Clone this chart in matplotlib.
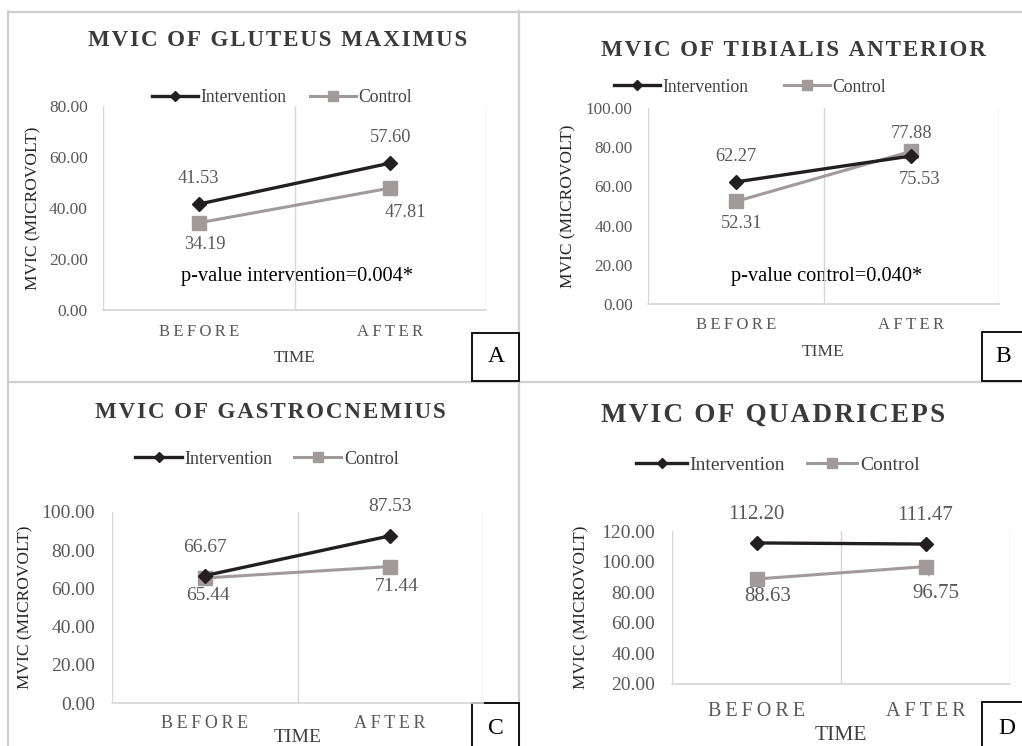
import matplotlib
matplotlib.use("Agg")
import matplotlib.pyplot as plt
import matplotlib.transforms as mtransforms
from matplotlib.lines import Line2D
from matplotlib.patches import Rectangle

plt.rcParams["font.family"] = ["Liberation Serif", "DejaVu Serif", "DejaVu Sans"]

W, H = 1022, 746

# data
times = ["BEFORE", "AFTER"]
titles = ["MVIC OF GLUTEUS MAXIMUS", "MVIC OF TIBIALIS ANTERIOR",
          "MVIC OF GASTROCNEMIUS", "MVIC OF QUADRICEPS"]
gluteus_int = [41.53, 57.60]
gluteus_ctl = [34.19, 47.81]
tibialis_int = [62.27, 75.53]
tibialis_ctl = [52.31, 77.88]
gastro_int = [66.67, 87.53]
gastro_ctl = [65.44, 71.44]
quad_int = [112.20, 111.47]
quad_ctl = [88.63, 96.75]
pvalues = ["p-value intervention=0.004*", "p-value control=0.040*", None, None]
letters = ["A", "B", "C", "D"]

INT_C = "#231f20"
CTL_C = "#a29a9a"
TXT_GREY = "#595959"
FRAME_C = "#cfcfcf"

fig = plt.figure(figsize=(W / 100, H / 100), dpi=100)

# background axes in pixel coordinates for frames and free text
bg = fig.add_axes([0, 0, 1, 1], zorder=-1)
bg.set_xlim(0, W)
bg.set_ylim(H, 0)
bg.axis("off")

for seg in [((8, W), (11.5, 11.5)), ((8, W), (381.5, 381.5)),
            ((8, 8), (11, H)), ((519, 519), (11, H))]:
    bg.add_line(Line2D(seg[0], seg[1], color=FRAME_C, lw=1.6))


def spaced(s, sep):
    return sep.join(s)


# pixel layout per panel
panels = [
    dict(plot=(103, 106, 486, 310), ylim=(0, 80), title=(278, 40, 16.6), legend=(282, 98, 12.7, 1.3),
         ytick_fs=12.5, ypad=11, ylabel_x=33, xt_y=332, xt_fs=12, time_y=358, time_fs=12.3,
         lab_fs=13.2, pval=(297, 277, 14.7), box=(472, 333, 519, 381), letter=(496, 357),
         offs=[[(0, 26), (0, 26)], [(6, -22), (15, -24)]], leader=[False, True]),
    dict(plot=(648, 108, 999, 304), ylim=(0, 100), title=(793, 50, 16.6), legend=(750, 87, 12.7, 2.0),
         ytick_fs=12.3, ypad=11, ylabel_x=568, xt_y=325, xt_fs=12, time_y=352, time_fs=12.5,
         lab_fs=13.2, pval=(827, 277, 14.7), box=(982, 332, 1030, 381), letter=(1003, 357),
         offs=[[(0, 25), (8, -24)], [(6, -22), (0, 18)]], leader=[False, False]),
    dict(plot=(112, 512, 483, 703), ylim=(0, 100), title=(270, 413, 16.6), legend=(267, 459, 13, 1.2),
         ytick_fs=14, ypad=12, ylabel_x=25, xt_y=724, xt_fs=13, time_y=738, time_fs=14,
         lab_fs=14, pval=None, box=(472, 703, 519, 760), letter=(496, 728),
         offs=[[(0, 28), (0, 29)], [(3, -17), (6, -20)]], leader=[False, False]),
    dict(plot=(672, 531, 1010, 684), ylim=(20, 120), title=(773, 415, 19.5), legend=(778, 465, 14, 1.1),
         ytick_fs=14, ypad=12, ylabel_x=581, xt_y=712, xt_fs=14.5, time_y=736, time_fs=15.5,
         lab_fs=15, pval=None, box=(982, 702, 1030, 760), letter=(1007, 728),
         offs=[[(0, 28), (0, 29)], [(11, -18), (10, -27)]], leader=[False, True]),
]

series = [(gluteus_int, gluteus_ctl), (tibialis_int, tibialis_ctl),
          (gastro_int, gastro_ctl), (quad_int, quad_ctl)]

for k, p in enumerate(panels):
    x0, y0, x1, y1 = p["plot"]
    ax = fig.add_axes([x0 / W, 1 - y1 / H, (x1 - x0) / W, (y1 - y0) / H])
    ax.set_facecolor("none")
    ax.set_xlim(-0.5, 1.5)
    ax.set_ylim(*p["ylim"])
    ax.set_yticks(range(p["ylim"][0], p["ylim"][1] + 1, 20))
    ax.yaxis.set_major_formatter(matplotlib.ticker.FormatStrFormatter("%.2f"))
    ax.tick_params(axis="y", length=0, pad=p["ypad"], labelsize=p["ytick_fs"], labelcolor=TXT_GREY)
    ax.set_xticks([])
    for s in ["top", "right", "left"]:
        ax.spines[s].set_visible(False)
    ax.spines["bottom"].set_color("#d6d6d6")
    ax.spines["bottom"].set_linewidth(1.2)
    for gx in (-0.5, 0.5, 1.5):
        ax.axvline(gx, color="#d6d6d6", lw=1.0, zorder=0)

    xs = range(len(times))
    vi, vc = series[k]
    ax.plot(xs, vi, color=INT_C, lw=2.4, marker="D", ms=7.5, label="Intervention", zorder=4)
    ax.plot(xs, vc, color=CTL_C, lw=2.2, marker="s", ms=10, label="Control", zorder=3)

    for j, vals in enumerate((vi, vc)):
        for i, v in enumerate(vals):
            dx, dy = p["offs"][j][i]
            arrow = None
            if j == 1 and p["leader"][i]:
                arrow = dict(arrowstyle="-", color="#8c8c8c", lw=0.8, shrinkA=4, shrinkB=0)
            ax.annotate(f"{v:.2f}", (i, v), xytext=(dx * 0.72, dy * 0.72),
                        textcoords="offset points", ha="center", va="center",
                        fontsize=p["lab_fs"], color=TXT_GREY, arrowprops=arrow, zorder=1)

    # legend
    lx, ly, lfs, lcs = p["legend"]
    ax.legend(loc="center", bbox_to_anchor=(lx / W, 1 - ly / H), bbox_transform=fig.transFigure,
              ncol=2, frameon=False, fontsize=lfs, handlelength=2.6, handletextpad=0.15,
              columnspacing=lcs, markerscale=0.65, labelcolor="#404040", borderpad=0)

    # category labels
    blend = mtransforms.blended_transform_factory(ax.transData, bg.transData)
    for i, t in enumerate(times):
        ax.text(i, p["xt_y"], spaced(t, "\u2009"), transform=blend, ha="center", va="center",
                fontsize=p["xt_fs"], color=TXT_GREY, clip_on=False)

    # title, axis labels
    tx, ty, tfs = p["title"]
    bg.text(tx, ty, spaced(titles[k], "\u200a"), ha="center", va="center",
            fontsize=tfs, fontweight="bold", color="#3a3a3a")
    bg.text((x0 + x1) / 2, p["time_y"], "TIME", ha="center", va="center",
            fontsize=p["time_fs"], color="#404040")
    bg.text(p["ylabel_x"], (y0 + y1) / 2, "MVIC (MICROVOLT)", ha="center", va="center",
            rotation=90, fontsize=12.5, color="#262626")
    if p["pval"]:
        px, py, pfs = p["pval"]
        bg.text(px, py, pvalues[k], ha="center", va="center", fontsize=pfs, color="black")

    # panel letter box
    bx0, by0, bx1, by1 = p["box"]
    bg.add_patch(Rectangle((bx0, by0), bx1 - bx0, by1 - by0, facecolor="white",
                           edgecolor="black", lw=1.3, zorder=5))
    bg.text(p["letter"][0], p["letter"][1], letters[k], ha="center", va="center",
            fontsize=17, color="black", zorder=6)

fig.savefig("out.png", dpi=100)
